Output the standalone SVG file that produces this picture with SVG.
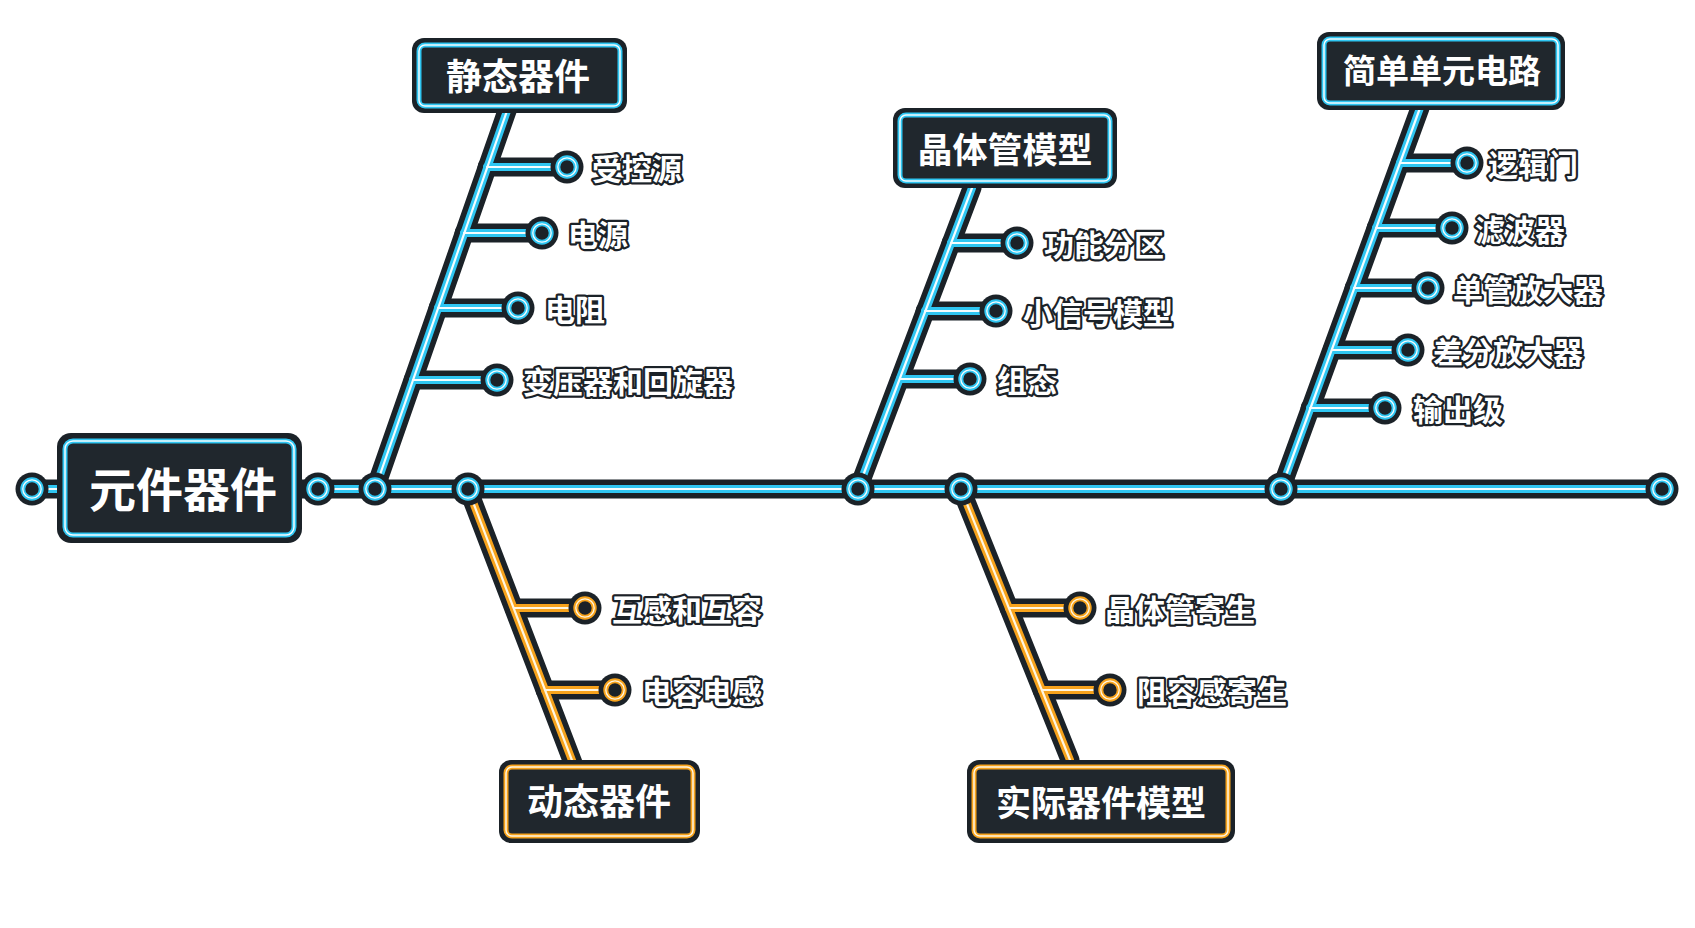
<svg xmlns="http://www.w3.org/2000/svg" xmlns:xlink="http://www.w3.org/1999/xlink" width="1695" height="928" viewBox="0 0 1695 928">
<style>
.band{fill:none;stroke:#1b2228;stroke-width:19;stroke-linecap:round;stroke-linejoin:round}
.cy{fill:none;stroke:#2fc6f2;stroke-width:8;stroke-linecap:round;stroke-linejoin:round}
.or{fill:none;stroke:#f7a31c;stroke-width:8;stroke-linecap:round;stroke-linejoin:round}
.core{fill:none;stroke:#f4fdff;stroke-width:2.2;stroke-linecap:round;stroke-linejoin:round}
.coreo{fill:none;stroke:#fff6e0;stroke-width:2.2;stroke-linecap:round;stroke-linejoin:round}
.box{fill:#1b2228}
.neon{fill:#20272d;stroke:#2fc6f2;stroke-width:5}
.neono{fill:#20272d;stroke:#f7a31c;stroke-width:5}
.neoncore{fill:none;stroke:#f4fdff;stroke-width:1.5}
.neoncoreo{fill:none;stroke:#fff6e0;stroke-width:1.5}
.title{font-family:"Noto Sans CJK SC","Noto Sans",sans-serif;font-weight:700;fill:#ffffff;text-anchor:middle}
.lbl{font-family:"Noto Sans CJK SC","Noto Sans",sans-serif;font-weight:700;font-size:30px;fill:#ffffff;stroke:#1b2228;stroke-width:4.5;paint-order:stroke;stroke-linejoin:round}
.dotout{fill:#1b2228}
.dotc{fill:#1b2228;stroke:#2fc6f2;stroke-width:5}
.doto{fill:#1b2228;stroke:#f7a31c;stroke-width:5}
.dotcore{fill:none;stroke:#f4fdff;stroke-width:1.3}
.dotcoreo{fill:none;stroke:#fff6e0;stroke-width:1.3}
</style>
<defs>
<g id="cyanPaths">
<path d="M32 489 H1662"/>
<path d="M375 489 L508 108"/>
<path d="M487 167 H567 M464 233 H542 M438 308 H518 M413 380 H497"/>
<path d="M858 489 L972 188"/>
<path d="M951 243 H1017 M925 311 H996 M900 379 H970"/>
<path d="M1281 489 L1420 108"/>
<path d="M1400 163 H1467 M1376 228 H1452 M1354 288 H1428 M1332 350 H1408 M1310 408 H1385"/>
</g>
<g id="orangePaths">
<path d="M468 489 L573 763"/>
<path d="M514 608 H585 M545 690 H615"/>
<path d="M961 489 L1070 760"/>
<path d="M1009 608 H1080 M1042 690 H1110"/>
</g>
<g id="dotC"><circle r="16.5" class="dotout"/><circle r="9.2" class="dotc"/><circle r="9.2" class="dotcore"/></g>
<g id="dotO"><circle r="16.5" class="dotout"/><circle r="9.2" class="doto"/><circle r="9.2" class="dotcoreo"/></g>
</defs>
<rect width="1695" height="928" fill="#ffffff"/>
<g id="connectors">
<use xlink:href="#cyanPaths" class="band"/>
<use xlink:href="#orangePaths" class="band"/>
<use xlink:href="#cyanPaths" class="cy"/>
<use xlink:href="#orangePaths" class="or"/>
<use xlink:href="#cyanPaths" class="core"/>
<use xlink:href="#orangePaths" class="coreo"/>
<use xlink:href="#dotC" x="32" y="489"/>
<use xlink:href="#dotC" x="318" y="489"/>
<use xlink:href="#dotC" x="375" y="489"/>
<use xlink:href="#dotC" x="468" y="489"/>
<use xlink:href="#dotC" x="858" y="489"/>
<use xlink:href="#dotC" x="961" y="489"/>
<use xlink:href="#dotC" x="1281" y="489"/>
<use xlink:href="#dotC" x="1662" y="489"/>
</g>
<g id="node-root">
<rect x="57" y="433" width="245" height="110" rx="14" class="box"/>
<rect x="65" y="441" width="229" height="94" rx="8" class="neon"/>
<rect x="65" y="441" width="229" height="94" rx="8" class="neoncore"/>
<text x="183" y="507" class="title" font-size="47">元件器件</text>
</g>
<g id="node-static">
<rect x="412" y="38" width="215" height="75" rx="12" class="box"/>
<rect x="419" y="45" width="201" height="61" rx="6" class="neon"/>
<rect x="419" y="45" width="201" height="61" rx="6" class="neoncore"/>
<text x="518" y="90" class="title" font-size="36">静态器件</text>
</g>
<g id="node-transistor">
<rect x="893" y="108" width="224" height="80" rx="12" class="box"/>
<rect x="900" y="115" width="210" height="66" rx="6" class="neon"/>
<rect x="900" y="115" width="210" height="66" rx="6" class="neoncore"/>
<text x="1005" y="163" class="title" font-size="35">晶体管模型</text>
</g>
<g id="node-simple">
<rect x="1317" y="32" width="248" height="78" rx="12" class="box"/>
<rect x="1324" y="39" width="234" height="64" rx="6" class="neon"/>
<rect x="1324" y="39" width="234" height="64" rx="6" class="neoncore"/>
<text x="1442" y="83" class="title" font-size="33">简单单元电路</text>
</g>
<g id="node-dynamic">
<rect x="499" y="760" width="201" height="83" rx="12" class="box"/>
<rect x="506" y="767" width="187" height="69" rx="6" class="neono"/>
<rect x="506" y="767" width="187" height="69" rx="6" class="neoncoreo"/>
<text x="599" y="815" class="title" font-size="36">动态器件</text>
</g>
<g id="node-actual">
<rect x="967" y="760" width="268" height="83" rx="12" class="box"/>
<rect x="974" y="767" width="254" height="69" rx="6" class="neono"/>
<rect x="974" y="767" width="254" height="69" rx="6" class="neoncoreo"/>
<text x="1101" y="816" class="title" font-size="35">实际器件模型</text>
</g>
<g id="leaf-shoukongyuan"><use xlink:href="#dotC" x="567" y="167"/><text x="592" y="180" class="lbl">受控源</text></g>
<g id="leaf-dianyuan"><use xlink:href="#dotC" x="542" y="233"/><text x="568" y="246" class="lbl">电源</text></g>
<g id="leaf-dianzu"><use xlink:href="#dotC" x="518" y="308"/><text x="545" y="321" class="lbl">电阻</text></g>
<g id="leaf-bianyaqi"><use xlink:href="#dotC" x="497" y="380"/><text x="523" y="393" class="lbl">变压器和回旋器</text></g>
<g id="leaf-gongneng"><use xlink:href="#dotC" x="1017" y="243"/><text x="1044" y="256" class="lbl">功能分区</text></g>
<g id="leaf-xiaoxinhao"><use xlink:href="#dotC" x="996" y="311"/><text x="1023" y="324" class="lbl">小信号模型</text></g>
<g id="leaf-zutai"><use xlink:href="#dotC" x="970" y="379"/><text x="997" y="392" class="lbl">组态</text></g>
<g id="leaf-luojimen"><use xlink:href="#dotC" x="1467" y="163"/><text x="1488" y="176" class="lbl">逻辑门</text></g>
<g id="leaf-lvboqi"><use xlink:href="#dotC" x="1452" y="228"/><text x="1475" y="241" class="lbl">滤波器</text></g>
<g id="leaf-danguan"><use xlink:href="#dotC" x="1428" y="288"/><text x="1453" y="301" class="lbl">单管放大器</text></g>
<g id="leaf-chafen"><use xlink:href="#dotC" x="1408" y="350"/><text x="1433" y="363" class="lbl">差分放大器</text></g>
<g id="leaf-shuchu"><use xlink:href="#dotC" x="1385" y="408"/><text x="1413" y="421" class="lbl">输出级</text></g>
<g id="leaf-hugan"><use xlink:href="#dotO" x="585" y="608"/><text x="612" y="621" class="lbl">互感和互容</text></g>
<g id="leaf-dianrong"><use xlink:href="#dotO" x="615" y="690"/><text x="642" y="703" class="lbl">电容电感</text></g>
<g id="leaf-jingtiguanjisheng"><use xlink:href="#dotO" x="1080" y="608"/><text x="1105" y="621" class="lbl">晶体管寄生</text></g>
<g id="leaf-zurong"><use xlink:href="#dotO" x="1110" y="690"/><text x="1137" y="703" class="lbl">阻容感寄生</text></g>
</svg>
